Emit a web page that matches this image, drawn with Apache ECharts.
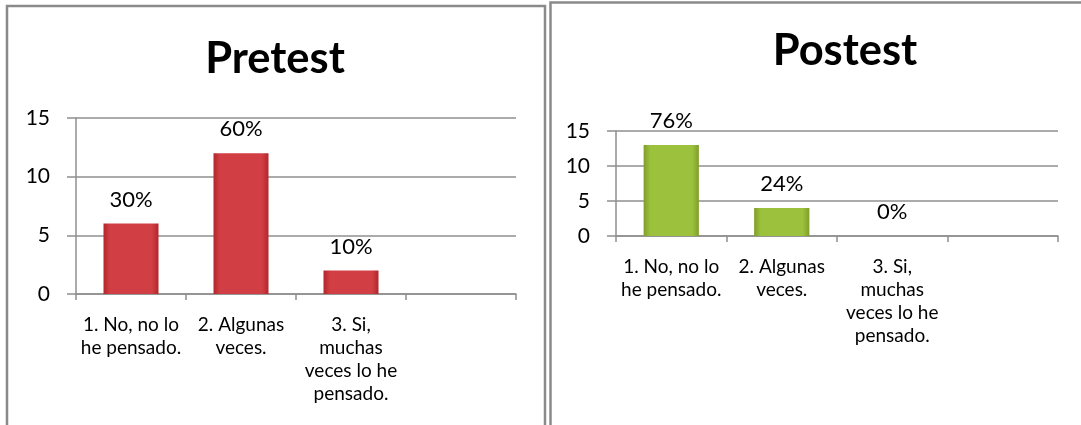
<!DOCTYPE html>
<html>
<head>
<meta charset="utf-8">
<script src="https://cdn.jsdelivr.net/npm/echarts@6/dist/echarts.min.js"></script>
<style>
html,body{margin:0;padding:0;background:#fff;}
#c{width:1081px;height:425px;}
</style>
</head>
<body>
<div id="c"></div>
<script>
var categories = ["1. No, no lo\nhe pensado.", "2. Algunas\nveces.", "3. Si,\nmuchas\nveces lo he\npensado.", ""];
var pretestValues = [6, 12, 2, null];
var pretestLabels = ["30%", "60%", "10%", ""];
var postestValues = [13, 4, 0, null];
var postestLabels = ["76%", "24%", "0%", ""];
var yTicks = [0, 5, 10, 15];

var FONT = "Lato, 'Open Sans', sans-serif";
var chart = echarts.init(document.getElementById('c'), null, {renderer: 'canvas'});

function barGrad(edge, mid) {
  return new echarts.graphic.LinearGradient(0, 0, 1, 0, [
    {offset: 0, color: edge}, {offset: 0.12, color: mid},
    {offset: 0.88, color: mid}, {offset: 1, color: edge}
  ]);
}

function yAxis(gi) {
  return {
    gridIndex: gi, type: 'value', min: yTicks[0], max: yTicks[yTicks.length - 1], interval: 5,
    axisLine: {show: true, lineStyle: {color: '#8f8f8f', width: 1.5}},
    axisTick: {show: true, length: 9, lineStyle: {color: '#8f8f8f', width: 1.5}},
    splitLine: {show: true, lineStyle: {color: '#8f8f8f', width: 1.5}},
    axisLabel: {color: '#000', fontSize: 21, fontFamily: FONT, margin: 26}
  };
}
function xAxis(gi) {
  return {
    gridIndex: gi, type: 'category', data: categories,
    axisLine: {show: true, lineStyle: {color: '#8f8f8f', width: 1.5}},
    axisTick: {show: true, length: 6, alignWithLabel: false, lineStyle: {color: '#8f8f8f', width: 1.5}},
    axisLabel: {color: '#000', fontSize: 19, lineHeight: 23, fontFamily: FONT, margin: 19, interval: 0}
  };
}
function labelFmt(arr) {
  return function (p) { return arr[p.dataIndex]; };
}

chart.setOption({
  animation: false,
  backgroundColor: '#fff',
  title: [
    {text: 'Pretest', left: 270, top: 32, textAlign: 'center',
     textStyle: {fontFamily: FONT, fontWeight: 'bold', fontSize: 43.5, color: '#000'}},
    {text: 'Postest', left: 840, top: 24, textAlign: 'center',
     textStyle: {fontFamily: FONT, fontWeight: 'bold', fontSize: 43.5, color: '#000'}}
  ],
  grid: [
    {left: 76, right: 565, top: 118, bottom: 131},
    {left: 616, right: 23, top: 131, bottom: 189}
  ],
  xAxis: [xAxis(0), xAxis(1)],
  yAxis: [yAxis(0), yAxis(1)],
  graphic: [
    {type: 'rect', shape: {x: 7, y: 6, width: 538, height: 430},
     style: {fill: 'none', stroke: '#8a8a8a', lineWidth: 2.5}, z: 100},
    {type: 'rect', shape: {x: 550.5, y: 2.5, width: 540, height: 430},
     style: {fill: 'none', stroke: '#8a8a8a', lineWidth: 2.5}, z: 100}
  ],
  series: [
    {type: 'bar', xAxisIndex: 0, yAxisIndex: 0, data: pretestValues, barWidth: '50%',
     itemStyle: {color: barGrad('#b3262b', '#d13f44')},
     label: {show: true, position: 'top', distance: 13, fontSize: 22, fontFamily: FONT, color: '#000',
             formatter: labelFmt(pretestLabels)}},
    {type: 'bar', xAxisIndex: 1, yAxisIndex: 1, data: postestValues, barWidth: '50%',
     itemStyle: {color: barGrad('#7f9e2a', '#9cc13d')},
     label: {show: true, position: 'top', distance: 13, fontSize: 22, fontFamily: FONT, color: '#000',
             formatter: labelFmt(postestLabels)}}
  ]
});
</script>
</body>
</html>
